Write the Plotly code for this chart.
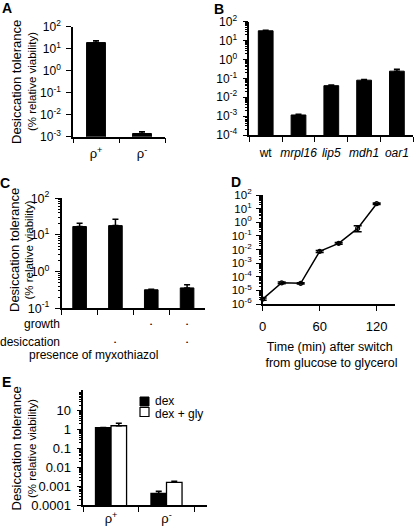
import plotly.graph_objects as go

W, H = 415, 526
FONT = "Liberation Sans, Arial, sans-serif"

# ---------------- data ----------------
A_categories = ["ρ<sup>+</sup>", "ρ<sup>-</sup>"]
A_values = [19, 1.4e-3]
A_err = [4, 0.3e-3]

B_categories = ["wt", "<i>mrpl16</i>", "<i>lip5</i>", "<i>mdh1</i>", "<i>oar1</i>"]
B_values = [33, 1.15e-3, 0.041, 0.08, 0.24]
B_err = [2, 0.1e-3, 0.003, 0.006, 0.06]

C_categories = ["none", "desiccation", "growth", "growth+desiccation"]
C_values = [17, 18, 0.32, 0.36]
C_err = [4, 9, 0.01, 0.08]
C_growth = [False, False, True, True]
C_desiccation = [False, True, False, True]

D_time = [0, 20, 40, 60, 80, 100, 120]
D_values = [2.3e-6, 3.6e-5, 3.3e-5, 7.3e-3, 0.028, 0.35, 23]
D_err_plus = [0.4e-6, 0.5e-5, 0.4e-5, 1.2e-3, 4e-3, 0.21, 3]
D_err_minus = [0.4e-6, 0.5e-5, 0.4e-5, 1.2e-3, 4e-3, 0.15, 3]

E_categories = ["ρ<sup>+</sup>", "ρ<sup>-</sup>"]
E_dex = [1.25, 4.1e-4]
E_dex_err = [0.05, 1.3e-4]
E_gly = [1.6, 1.6e-3]
E_gly_err = [0.6, 0.2e-3]
E_ticktext = ["0.0001", "0.001", "0.01", "0.1", "1", "10"]

# ---------------- helpers ----------------
def px(x):
    return x / W

def py(y):
    return 1 - y / H

def sup_ticks(lo, hi):
    vals = [10.0 ** k for k in range(lo, hi + 1)]
    txt = ["10<sup>%s</sup>" % (str(k) if k >= 0 else "-" + str(-k)) for k in range(lo, hi + 1)]
    return vals, txt

def minor_vals(lo, hi):
    out = []
    for k in range(lo, hi):
        for m in range(2, 10):
            out.append(m * 10.0 ** k)
    return out

def yaxis_log(lo, hi, top, bottom, size, ticktext=None, rng=None, standoff=3):
    vals, txt = sup_ticks(lo, hi)
    if ticktext is not None:
        txt = ticktext
    return dict(
        type="log", range=rng if rng else [lo, hi],
        domain=[py(bottom), py(top)],
        tickmode="array", tickvals=vals, ticktext=txt,
        ticks="outside", ticklen=5, tickwidth=1.3, tickcolor="black",
        showline=True, linecolor="black", linewidth=1.5,
        showgrid=False, zeroline=False, automargin=False,
        tickfont=dict(size=size, color="black", family=FONT),
        ticklabelstandoff=standoff,
    )

def yaxis_minor(lo, hi, top, bottom, over, anchor, rng=None):
    return dict(
        type="log", range=rng if rng else [lo, hi],
        domain=[py(bottom), py(top)], overlaying=over, anchor=anchor,
        tickmode="array", tickvals=minor_vals(lo, hi + 1),
        ticks="outside", ticklen=3, tickwidth=1, tickcolor="black",
        showticklabels=False, showline=False, showgrid=False, zeroline=False,
        automargin=False,
    )

def xaxis_cat(left, right, size, rng, show=True, standoff=4):
    return dict(
        type="category", domain=[px(left), px(right)], range=rng,
        tickson="boundaries", ticks="outside", ticklen=5, tickwidth=1.3,
        tickcolor="black", showline=True, linecolor="black", linewidth=1.5,
        showgrid=False, zeroline=False, showticklabels=show, tickangle=0,
        tickfont=dict(size=size, color="black", family=FONT),
        ticklabelstandoff=standoff, automargin=False,
    )

err_style = dict(type="data", symmetric=False, color="black", thickness=1.5, width=3)

fig = go.Figure()

# A
fig.add_trace(go.Bar(x=A_categories, y=A_values, width=0.41,
                     marker=dict(color="black", line=dict(color="black", width=1)),
                     error_y=dict(array=A_err, arrayminus=[0] * len(A_err), **err_style),
                     xaxis="x", yaxis="y", showlegend=False))
# B
fig.add_trace(go.Bar(x=B_categories, y=B_values, width=0.45,
                     marker=dict(color="black", line=dict(color="black", width=1)),
                     error_y=dict(array=B_err, arrayminus=[0] * len(B_err), **err_style),
                     xaxis="x2", yaxis="y2", showlegend=False))
# C
fig.add_trace(go.Bar(x=C_categories, y=C_values, width=0.38,
                     marker=dict(color="black", line=dict(color="black", width=1)),
                     error_y=dict(array=C_err, arrayminus=[0] * len(C_err), **err_style),
                     xaxis="x3", yaxis="y3", showlegend=False))
# D
fig.add_trace(go.Scatter(x=D_time, y=D_values, mode="lines+markers",
                         line=dict(color="black", width=1.5),
                         marker=dict(symbol="circle-open", size=4, color="black",
                                     line=dict(width=1.2, color="black")),
                         error_y=dict(type="data", symmetric=False, array=D_err_plus,
                                      arrayminus=D_err_minus, color="black",
                                      thickness=1.5, width=4),
                         cliponaxis=False,
                         xaxis="x4", yaxis="y4", showlegend=False))
# E
fig.add_trace(go.Bar(x=E_categories, y=E_dex, width=0.28, offset=-0.28, name="dex",
                     marker=dict(color="black", line=dict(color="black", width=1.3)),
                     error_y=dict(array=E_dex_err, arrayminus=[0] * 2, **err_style),
                     xaxis="x5", yaxis="y5", showlegend=False))
fig.add_trace(go.Bar(x=E_categories, y=E_gly, width=0.28, offset=0.0, name="dex + gly",
                     marker=dict(color="white", line=dict(color="black", width=1.3)),
                     error_y=dict(array=E_gly_err, arrayminus=[0] * 2, **err_style),
                     xaxis="x5", yaxis="y5", showlegend=False))

# empty traces to hold the minor-tick overlay axes
for xa, ya in [("x2", "y6"), ("x3", "y7"), ("x4", "y8"), ("x5", "y9")]:
    fig.add_trace(go.Scatter(x=[], y=[], xaxis=xa, yaxis=ya, showlegend=False,
                             hoverinfo="skip"))

fig.update_layout(
    width=W, height=H, margin=dict(l=0, r=0, t=0, b=0),
    paper_bgcolor="white", plot_bgcolor="white",
    font=dict(family=FONT, color="black"),
    barmode="overlay",
    xaxis={**xaxis_cat(73, 165, 13, [-0.5, 1.5]), "anchor": "y"},
    yaxis={**yaxis_log(-3, 2, 26.7, 136.7, 12), "anchor": "x"},
    xaxis2={**xaxis_cat(249.3, 413.3, 12, [-0.5, 4.5], standoff=6), "anchor": "y2"},
    yaxis2={**yaxis_log(-4, 2, 21.7, 135, 12), "anchor": "x2"},
    xaxis3={**xaxis_cat(61.7, 205, 12, [-0.5, 3.5], show=False), "anchor": "y3"},
    yaxis3={**yaxis_log(-1, 2, 198.3, 308.3, 12.5), "anchor": "x3"},
    xaxis4=dict(domain=[px(262.7), px(395)], range=[0, 139.3], anchor="y4",
                tickmode="array", tickvals=[0, 60, 120], ticktext=["0", "60", "120"],
                ticks="outside", ticklen=5, tickwidth=1.3, tickcolor="black",
                showline=True, linecolor="black", linewidth=1.5, showgrid=False,
                zeroline=False, tickfont=dict(size=13, color="black", family=FONT),
                ticklabelstandoff=5, automargin=False),
    yaxis4={**yaxis_log(-6, 2, 195, 304, 11.5, standoff=2), "anchor": "x4"},
    xaxis5={**xaxis_cat(83.3, 207, 13, [-0.5, 1.73], standoff=1), "anchor": "y5"},
    yaxis5={**yaxis_log(-4, 1, 390, 505, 13, ticktext=E_ticktext, rng=[-4, 2.1]),
            "anchor": "x5"},
    yaxis6=yaxis_minor(-4, 2, 21.7, 135, "y2", "x2"),
    yaxis7=yaxis_minor(-1, 2, 198.3, 308.3, "y3", "x3"),
    yaxis8=yaxis_minor(-6, 2, 195, 304, "y4", "x4"),
    yaxis9=yaxis_minor(-4, 2, 390, 505, "y5", "x5", rng=[-4, 2.1]),
)

ann = []
def text(x, y, s, size=13, bold=False, angle=0, xanchor="center", yanchor="middle"):
    ann.append(dict(x=px(x), y=py(y), xref="paper", yref="paper",
                    text=("<b>%s</b>" % s) if bold else s,
                    showarrow=False, textangle=angle, xanchor=xanchor, yanchor=yanchor,
                    font=dict(size=size, family=FONT, color="black")))

# panel letters
text(7, 8, "A", 14, True)
text(219, 9, "B", 14, True)
text(5, 183, "C", 14, True)
text(236, 182, "D", 14, True)
text(6, 382, "E", 14, True)

# y titles
for (x1, x2, yc) in [(16, 32, 82), (15, 28.5, 250), (15.5, 32, 449)]:
    text(x1, yc, "Desiccation tolerance", 13, angle=-90)
    text(x2, yc, "(% relative viability)", 11.5, angle=-90)

# C condition rows
text(62, 324, "growth", 12, xanchor="right")
text(62, 341.5, "desiccation", 12, xanchor="right")
text(93, 354.5, "presence of myxothiazol", 12)
for i, (g, d) in enumerate(zip(C_growth, C_desiccation)):
    if g:
        ann.append(dict(x=C_categories[i], y=py(324), xref="x3", yref="paper", text="•",
                        showarrow=False, font=dict(size=6, family=FONT, color="black")))
    if d:
        ann.append(dict(x=C_categories[i], y=py(341.5), xref="x3", yref="paper", text="•",
                        showarrow=False, font=dict(size=6, family=FONT, color="black")))

# D x title
text(329, 355, "Time (min) after switch<br> from glucose to glycerol", 12.5)

# E legend (manual)
shapes = [
    dict(type="rect", xref="paper", yref="paper", x0=px(140), x1=px(149), y0=py(406), y1=py(397),
         fillcolor="black", line=dict(color="black", width=1)),
    dict(type="rect", xref="paper", yref="paper", x0=px(140), x1=px(149), y0=py(416.5), y1=py(407.5),
         fillcolor="white", line=dict(color="black", width=1.2)),
]
text(153, 401, "dex", 12, xanchor="left")
text(153, 413.5, "dex + gly", 12, xanchor="left")

fig.update_layout(annotations=ann, shapes=shapes)
fig.write_html("out.html", config={"displayModeBar": False},
               post_script="document.body.style.margin='0';document.body.style.padding='0';")
